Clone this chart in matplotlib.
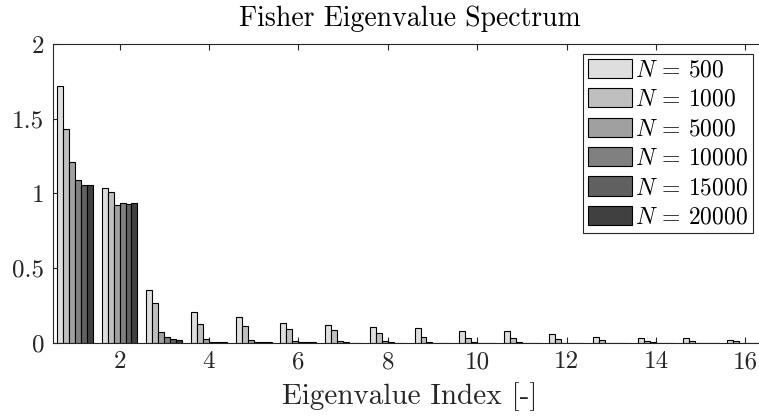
import numpy as np
import matplotlib
matplotlib.use("Agg")
import matplotlib.pyplot as plt

# ---- data ----
indices = np.arange(1, 17)
series_labels = [r"$N$ = 500", r"$N$ = 1000", r"$N$ = 5000",
                 r"$N$ = 10000", r"$N$ = 15000", r"$N$ = 20000"]
n500   = [1.72, 1.04, 0.355, 0.210, 0.172, 0.131, 0.123, 0.107, 0.100, 0.078, 0.078, 0.058, 0.042, 0.036, 0.033, 0.020]
n1000  = [1.43, 1.01, 0.270, 0.130, 0.112, 0.091, 0.085, 0.065, 0.040, 0.033, 0.033, 0.025, 0.020, 0.016, 0.016, 0.011]
n5000  = [1.21, 0.92, 0.076, 0.024, 0.022, 0.013, 0.011, 0.011, 0.005, 0.005, 0.007, 0.003, 0.002, 0.005, 0.002, 0.003]
n10000 = [1.09, 0.935, 0.040, 0.009, 0.009, 0.005, 0.004, 0.004, 0.002, 0.002, 0.002, 0.001, 0.001, 0.002, 0.001, 0.001]
n15000 = [1.06, 0.93, 0.024, 0.007, 0.007, 0.004, 0.003, 0.003, 0.002, 0.002, 0.002, 0.001, 0.001, 0.001, 0.001, 0.001]
n20000 = [1.055, 0.935, 0.018, 0.007, 0.007, 0.004, 0.003, 0.003, 0.002, 0.002, 0.002, 0.001, 0.001, 0.001, 0.001, 0.001]
series = [n500, n1000, n5000, n10000, n15000, n20000]
colors = ["#dedede", "#bfbfbf", "#a0a0a0", "#808080", "#606060", "#404040"]
xticks = [2, 4, 6, 8, 10, 12, 14, 16]
yticks = [0, 0.5, 1, 1.5, 2]
ytick_labels = ["0", "0.5", "1", "1.5", "2"]

plt.rcParams["font.family"] = "serif"
plt.rcParams["font.serif"] = ["cmr10"]
plt.rcParams["mathtext.fontset"] = "cm"
plt.rcParams["axes.formatter.use_mathtext"] = True

W, H = 759, 419
fig = plt.figure(figsize=(W / 100, H / 100), dpi=100)
left_px, right_px, top_px, bot_px = 52.5, 767.7, 44, 343
ax = fig.add_axes([left_px / W, (H - bot_px) / H, (right_px - left_px) / W, (bot_px - top_px) / H])

axcol = "#262626"
ngroups = len(series)
group_w = 0.8
bw = group_w / ngroups
for i, (vals, c, lab) in enumerate(zip(series, colors, series_labels)):
    offs = -group_w / 2 + bw * (i + 0.5)
    ax.bar(indices + offs, vals, width=bw, color=c, edgecolor="black",
           linewidth=0.8, label=lab, zorder=2)

ax.set_axisbelow(True)
ax.set_xlim(0.5, 16.5)
ax.set_ylim(0, 2)
ax.set_xticks(xticks)
ax.set_xticklabels([str(t) for t in xticks])
ax.set_yticks(yticks)
ax.set_yticklabels(ytick_labels)
ax.tick_params(direction="in", length=4.5, width=0.8, colors=axcol,
               labelsize=18, top=True, right=True, pad=6)
ax.tick_params(axis="x", pad=6)
for sp in ax.spines.values():
    sp.set_color(axcol)
    sp.set_linewidth(0.8)

ax.set_title("Fisher Eigenvalue Spectrum", fontsize=20, color="black", pad=13)
ax.set_xlabel("Eigenvalue Index [-]", fontsize=21, color=axcol, labelpad=6)

leg = ax.legend(loc="upper right", bbox_to_anchor=(753 / W, 1 - 54 / H),
                bbox_transform=fig.transFigure, borderaxespad=0,
                fontsize=17, handlelength=1.85, handleheight=0.88,
                labelspacing=0.28, handletextpad=0.15, borderpad=0.2,
                fancybox=False, framealpha=1, edgecolor=axcol)
leg.get_frame().set_linewidth(0.8)

fig.savefig("out.png", dpi=100)
